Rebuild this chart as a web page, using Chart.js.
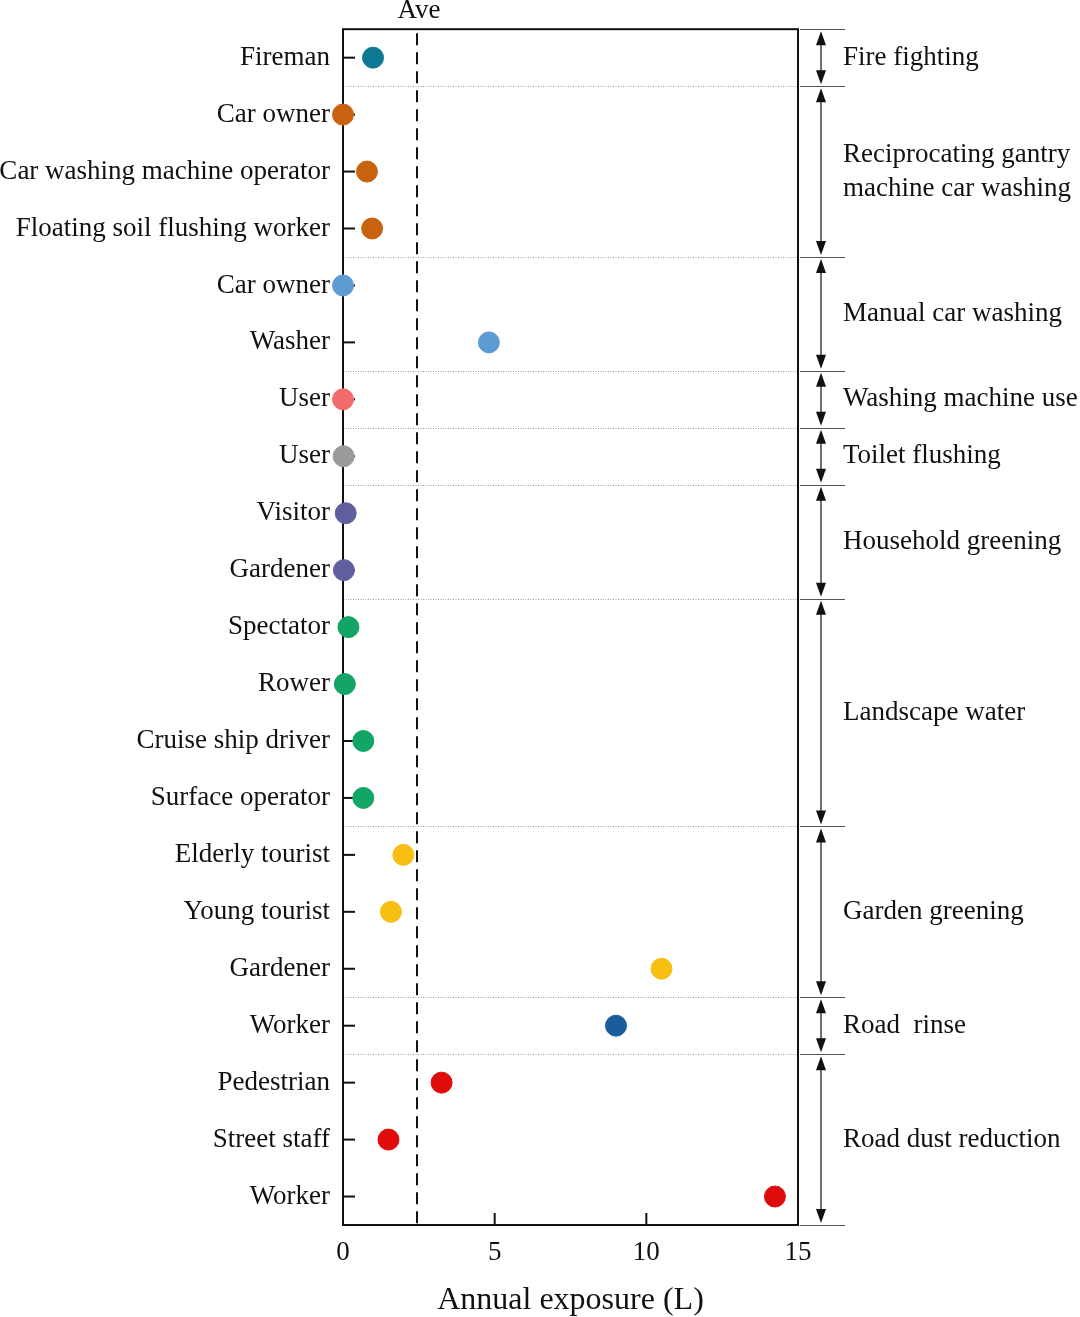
<!DOCTYPE html>
<html lang="en">
<head>
<meta charset="UTF-8" />
<title>Annual exposure</title>
<script src="https://cdn.jsdelivr.net/npm/chart.js"></script>
<style>
  html, body { margin: 0; padding: 0; background: #fff; }
  #wrap { width: 1080px; height: 1317px; }
</style>
</head>
<body>
<div id="wrap"><canvas id="exposureChart" width="1080" height="1317"></canvas></div>
<script>
const roleLabels = [
  "Fireman",
  "Car owner", "Car washing machine operator", "Floating soil flushing worker",
  "Car owner", "Washer",
  "User",
  "User",
  "Visitor", "Gardener",
  "Spectator", "Rower", "Cruise ship driver", "Surface operator",
  "Elderly tourist", "Young tourist", "Gardener",
  "Worker",
  "Pedestrian", "Street staff", "Worker"
];
const exposureValues = [
  0.99,
  0.0, 0.79, 0.96,
  0.0, 4.81,
  0.0,
  0.02,
  0.09, 0.03,
  0.18, 0.06, 0.67, 0.67,
  1.99, 1.58, 10.5,
  9.0,
  3.25, 1.5, 14.24
];
const groupNames = [
  "Fire fighting",
  "Reciprocating gantry\nmachine car washing",
  "Manual car washing",
  "Washing machine use",
  "Toilet flushing",
  "Household greening",
  "Landscape water",
  "Garden greening",
  "Road  rinse",
  "Road dust reduction"
];
const groupSizes = [1, 3, 2, 1, 1, 2, 4, 3, 1, 3];
const groupColors = [
  "#0c7893", "#c8620e", "#5e9bd3", "#f36a6a", "#9a9a9a",
  "#5f5f9f", "#13a565", "#f7bf12", "#1a5d9b", "#e00b0b"
];
const aveValue = 2.44;
const xTicks = [0, 5, 10, 15];

const FONT = "'Liberation Serif', 'Times New Roman', serif";

const pointColors = [];
groupSizes.forEach((n, g) => {
  for (let i = 0; i < n; i++) pointColors.push(groupColors[g]);
});

// background decorations: frame, inward ticks, Ave line, group separators and brackets
const decorations = {
  id: "decorations",
  beforeDatasetsDraw(chart) {
    const { ctx, chartArea: a, scales } = chart;
    const xs = scales.x, ys = scales.y;
    ctx.save();

    // group boundaries
    const bounds = [];
    let idx = 0;
    bounds.push(ys.getPixelForValue(-0.5));
    groupSizes.forEach(n => { idx += n; bounds.push(ys.getPixelForValue(idx - 0.5)); });

    // dotted separators inside plot
    ctx.strokeStyle = "#9a9a9a";
    ctx.lineWidth = 1;
    ctx.setLineDash([1, 1.5]);
    for (let i = 1; i < bounds.length - 1; i++) {
      ctx.beginPath();
      ctx.moveTo(a.left, Math.round(bounds[i]) + 0.5);
      ctx.lineTo(a.right, Math.round(bounds[i]) + 0.5);
      ctx.stroke();
    }
    ctx.setLineDash([]);

    // short solid lines on the right
    ctx.strokeStyle = "#555";
    bounds.forEach(b => {
      ctx.beginPath();
      ctx.moveTo(a.right + 2, Math.round(b) + 0.5);
      ctx.lineTo(a.right + 47, Math.round(b) + 0.5);
      ctx.stroke();
    });

    // double-headed arrows and group labels
    const ax = a.right + 23;
    ctx.fillStyle = "#111";
    ctx.strokeStyle = "#111";
    for (let g = 0; g < groupSizes.length; g++) {
      const y0 = bounds[g] + 2, y1 = bounds[g + 1] - 2;
      ctx.lineWidth = 1.2;
      ctx.beginPath();
      ctx.moveTo(ax, y0 + 8);
      ctx.lineTo(ax, y1 - 8);
      ctx.stroke();
      ctx.beginPath();
      ctx.moveTo(ax, y0); ctx.lineTo(ax - 5, y0 + 14); ctx.lineTo(ax + 5, y0 + 14); ctx.closePath();
      ctx.fill();
      ctx.beginPath();
      ctx.moveTo(ax, y1); ctx.lineTo(ax - 5, y1 - 14); ctx.lineTo(ax + 5, y1 - 14); ctx.closePath();
      ctx.fill();

      const lines = groupNames[g].split("\n");
      const mid = (bounds[g] + bounds[g + 1]) / 2;
      const lh = 34;
      ctx.font = "27px " + FONT;
      ctx.textAlign = "left";
      ctx.textBaseline = "middle";
      lines.forEach((t, k) => {
        ctx.fillText(t, a.right + 45, mid + (k - (lines.length - 1) / 2) * lh);
      });
    }

    // Ave dashed line and label
    const xa = xs.getPixelForValue(aveValue);
    ctx.strokeStyle = "#111";
    ctx.lineWidth = 2;
    ctx.setLineDash([12, 7]);
    ctx.beginPath();
    ctx.moveTo(xa, a.top + 4);
    ctx.lineTo(xa, a.bottom);
    ctx.stroke();
    ctx.setLineDash([]);
    ctx.font = "27px " + FONT;
    ctx.textAlign = "center";
    ctx.textBaseline = "middle";
    ctx.fillText("Ave", xa + 2, a.top - 18);

    // inward tick marks
    ctx.lineWidth = 2;
    roleLabels.forEach((_, i) => {
      const y = ys.getPixelForValue(i);
      ctx.beginPath();
      ctx.moveTo(a.left, y);
      ctx.lineTo(a.left + 12, y);
      ctx.stroke();
    });
    xTicks.forEach(v => {
      const x = xs.getPixelForValue(v);
      ctx.beginPath();
      ctx.moveTo(x, a.bottom);
      ctx.lineTo(x, a.bottom - 12);
      ctx.stroke();
    });

    // frame
    ctx.lineWidth = 2;
    ctx.strokeRect(a.left, a.top, a.right - a.left, a.bottom - a.top);
    ctx.restore();
  }
};

new Chart(document.getElementById("exposureChart"), {
  type: "scatter",
  data: {
    datasets: [{
      label: "Annual exposure",
      data: exposureValues.map((v, i) => ({ x: v, y: i })),
      pointBackgroundColor: pointColors,
      pointBorderColor: pointColors,
      pointRadius: 10.5,
      pointHoverRadius: 10.5,
      clip: false
    }]
  },
  options: {
    responsive: false,
    animation: false,
    devicePixelRatio: 1,
    layout: { padding: { top: 28, right: 282, bottom: 0, left: 0 } },
    plugins: { legend: { display: false }, tooltip: { enabled: false } },
    scales: {
      x: {
        type: "linear",
        min: 0,
        max: 15,
        afterBuildTicks: s => { s.ticks = xTicks.map(v => ({ value: v })); },
        afterFit: s => { s.height = 92; },
        grid: { display: false, drawTicks: false },
        border: { display: false },
        ticks: { color: "#111", padding: 12, font: { family: FONT, size: 27 } },
        title: {
          display: true,
          text: "Annual exposure (L)",
          color: "#111",
          padding: { top: 0, bottom: 0 },
          font: { family: FONT, size: 32, lineHeight: 1.0 }
        }
      },
      y: {
        type: "linear",
        reverse: true,
        min: -0.5,
        max: roleLabels.length - 0.5,
        afterBuildTicks: s => { s.ticks = roleLabels.map((_, i) => ({ value: i })); },
        afterFit: s => { s.width = 343; },
        grid: { display: false, drawTicks: false },
        border: { display: false },
        ticks: {
          color: "#111",
          padding: 13,
          autoSkip: false,
          font: { family: FONT, size: 27 },
          callback: v => roleLabels[v]
        }
      }
    }
  },
  plugins: [decorations]
});
</script>
</body>
</html>
